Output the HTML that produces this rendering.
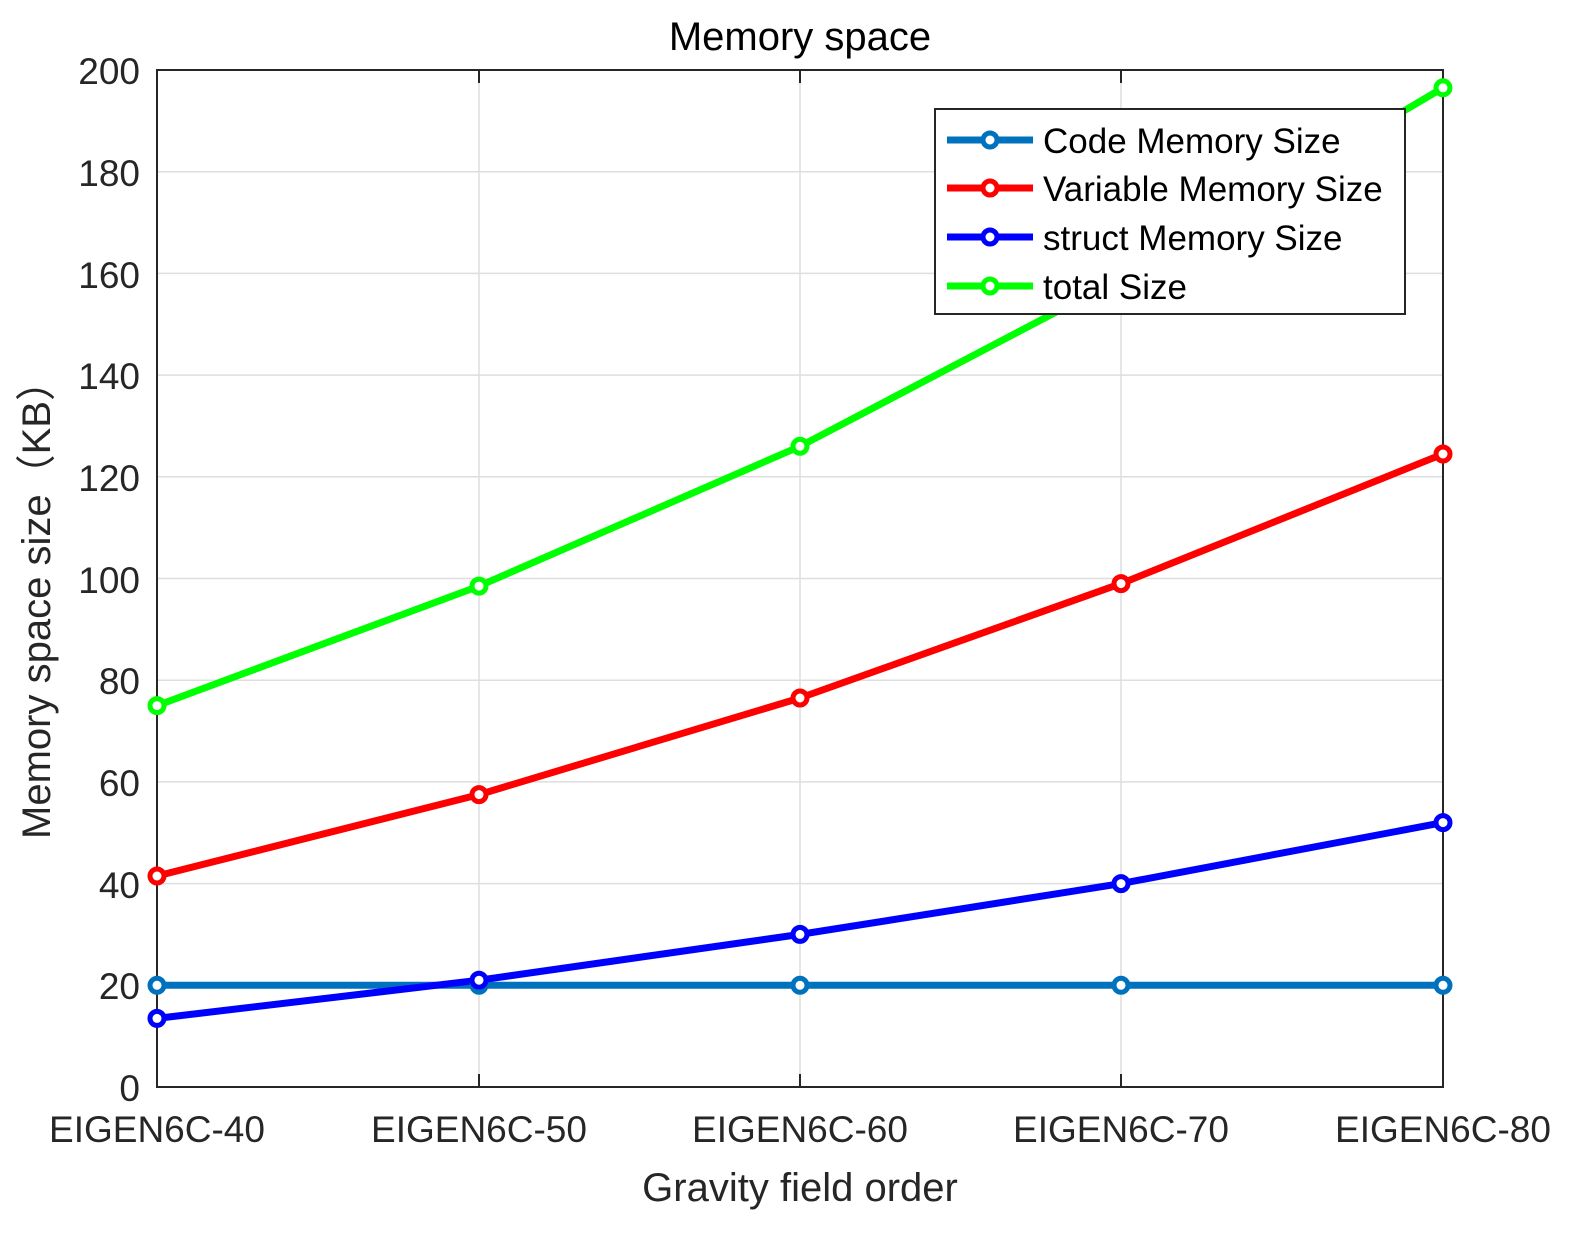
<!DOCTYPE html>
<html><head><meta charset="utf-8"><style>body{margin:0;background:#fff}</style></head><body>
<svg width="1577" height="1230" xmlns="http://www.w3.org/2000/svg" font-family="Liberation Sans, sans-serif">
<rect width="1577" height="1230" fill="#fff"/>
<g stroke="#dedede" stroke-width="1.5">
<line x1="479" y1="70" x2="479" y2="1087"/><line x1="800" y1="70" x2="800" y2="1087"/><line x1="1121" y1="70" x2="1121" y2="1087"/>
<line x1="157" y1="171.7" x2="1443" y2="171.7"/><line x1="157" y1="273.4" x2="1443" y2="273.4"/><line x1="157" y1="375.1" x2="1443" y2="375.1"/><line x1="157" y1="476.8" x2="1443" y2="476.8"/><line x1="157" y1="578.5" x2="1443" y2="578.5"/><line x1="157" y1="680.2" x2="1443" y2="680.2"/><line x1="157" y1="781.9" x2="1443" y2="781.9"/><line x1="157" y1="883.6" x2="1443" y2="883.6"/><line x1="157" y1="985.3" x2="1443" y2="985.3"/>
</g>
<rect x="157" y="70" width="1286" height="1017" fill="none" stroke="#262626" stroke-width="2"/>
<g stroke="#262626" stroke-width="2">
<line x1="479" y1="1087" x2="479" y2="1074"/><line x1="800" y1="1087" x2="800" y2="1074"/><line x1="1121" y1="1087" x2="1121" y2="1074"/>
<line x1="479" y1="70" x2="479" y2="83"/><line x1="800" y1="70" x2="800" y2="83"/><line x1="1121" y1="70" x2="1121" y2="83"/>
</g>
<g font-size="37" fill="#262626" text-anchor="end">
<text x="140" y="1101">0</text><text x="140" y="999">20</text><text x="140" y="898">40</text><text x="140" y="796">60</text><text x="140" y="694">80</text><text x="140" y="593">100</text><text x="140" y="491">120</text><text x="140" y="389">140</text><text x="140" y="288">160</text><text x="140" y="186">180</text><text x="140" y="84">200</text>
</g>
<g font-size="37" fill="#262626" text-anchor="middle">
<text x="157" y="1142">EIGEN6C-40</text><text x="479" y="1142">EIGEN6C-50</text><text x="800" y="1142">EIGEN6C-60</text><text x="1121" y="1142">EIGEN6C-70</text><text x="1443" y="1142">EIGEN6C-80</text>
<text x="800" y="1201" font-size="40">Gravity field order</text>
<text x="800" y="50" font-size="40" fill="#000">Memory space</text>
<text transform="translate(50,600) rotate(-90)" font-size="40">Memory space size（KB）</text>
</g>
<g fill="none" stroke-width="7" stroke-linejoin="round">
<polyline stroke="#0072bd" points="157,985.3 479,985.3 800,985.3 1121,985.3 1443,985.3"/>
<polyline stroke="#ff0000" points="157,876 479,794.6 800,698 1121,583.6 1443,454"/>
<polyline stroke="#0000ff" points="157,1018.4 479,980.2 800,934.4 1121,883.6 1443,822.6"/>
<polyline stroke="#00ff00" points="157,705.6 479,586.1 800,446.3 1121,278 1443,87.8"/>
</g>
<g fill="#fff" stroke-width="5">
<g stroke="#0072bd"><circle cx="157" cy="985.3" r="7"/><circle cx="479" cy="985.3" r="7"/><circle cx="800" cy="985.3" r="7"/><circle cx="1121" cy="985.3" r="7"/><circle cx="1443" cy="985.3" r="7"/></g>
<g stroke="#ff0000"><circle cx="157" cy="876" r="7"/><circle cx="479" cy="794.6" r="7"/><circle cx="800" cy="698" r="7"/><circle cx="1121" cy="583.6" r="7"/><circle cx="1443" cy="454" r="7"/></g>
<g stroke="#0000ff"><circle cx="157" cy="1018.4" r="7"/><circle cx="479" cy="980.2" r="7"/><circle cx="800" cy="934.4" r="7"/><circle cx="1121" cy="883.6" r="7"/><circle cx="1443" cy="822.6" r="7"/></g>
<g stroke="#00ff00"><circle cx="157" cy="705.6" r="7"/><circle cx="479" cy="586.1" r="7"/><circle cx="800" cy="446.3" r="7"/><circle cx="1443" cy="87.8" r="7"/></g>
</g>
<rect x="935" y="109" width="470" height="205" fill="#fff" stroke="#262626" stroke-width="2"/>
<g stroke-width="7"><line x1="947" y1="140" x2="1033" y2="140" stroke="#0072bd"/><line x1="947" y1="188" x2="1033" y2="188" stroke="#ff0000"/><line x1="947" y1="237" x2="1033" y2="237" stroke="#0000ff"/><line x1="947" y1="286" x2="1033" y2="286" stroke="#00ff00"/></g>
<g fill="#fff" stroke-width="5"><circle cx="990" cy="140" r="7" stroke="#0072bd"/><circle cx="990" cy="188" r="7" stroke="#ff0000"/><circle cx="990" cy="237" r="7" stroke="#0000ff"/><circle cx="990" cy="286" r="7" stroke="#00ff00"/></g>
<g font-size="35" fill="#000"><text x="1043" y="153">Code Memory Size</text><text x="1043" y="201">Variable Memory Size</text><text x="1043" y="250">struct Memory Size</text><text x="1043" y="299">total Size</text></g>
</svg>
</body></html>
